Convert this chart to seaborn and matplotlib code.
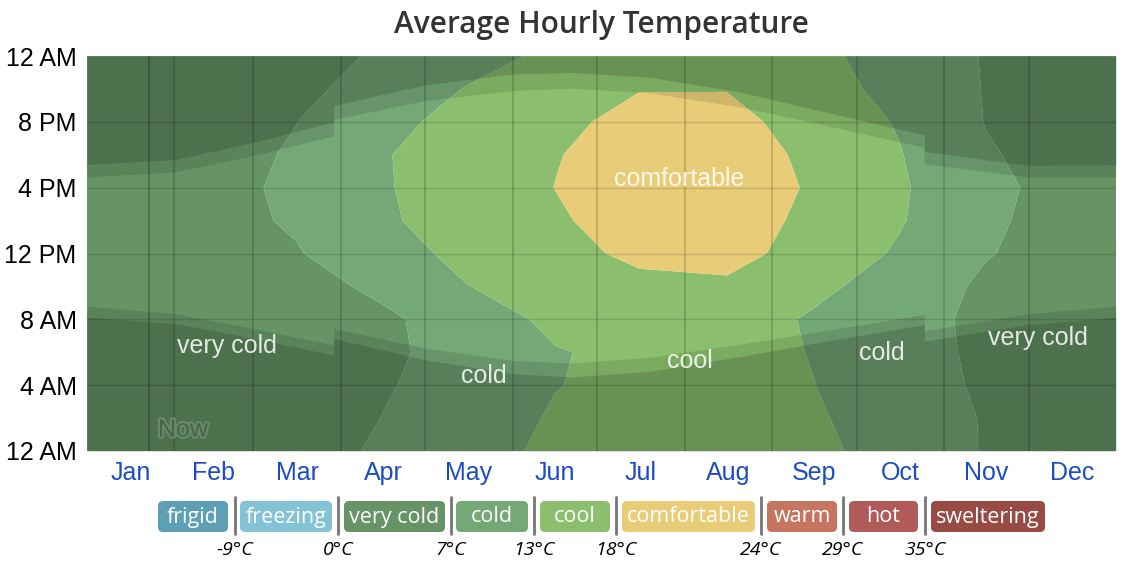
import numpy as np
import matplotlib.pyplot as plt
import matplotlib.patheffects as pe
from matplotlib.patches import FancyBboxPatch
import seaborn as sns

# --- data ---
months = ['Jan', 'Feb', 'Mar', 'Apr', 'May', 'Jun', 'Jul', 'Aug', 'Sep', 'Oct', 'Nov', 'Dec']
month_lengths = [31, 28, 31, 30, 31, 30, 31, 31, 30, 31, 30, 31]
mid_days = [15, 45, 74, 105, 135, 166, 196, 227, 258, 288, 319, 349]
hours = [0, 2, 4, 6, 8, 10, 12, 14, 16, 18, 20, 22, 24]

# average temperature (°C), one list per hour of day, mid-month values Jan..Dec
temp_h00 = [2.6, 2.8, 4.6, 7.8, 10.8, 14.2, 15.6, 15.8, 14.1, 11.0, 6.6, 3.4]
temp_h02 = [2.3, 2.5, 3.8, 7.1, 9.8, 13.6, 15.1, 15.2, 13.6, 10.4, 6.6, 3.1]
temp_h04 = [2.1, 2.2, 3.3, 6.6, 9.0, 12.8, 14.7, 14.9, 13.05, 9.8, 6.1, 2.8]
temp_h06 = [1.9, 2.0, 3.0, 6.2, 8.6, 12.6, 14.5, 14.6, 12.8, 9.5, 5.8, 2.6]
temp_h08 = [2.0, 2.3, 3.7, 6.2, 9.2, 14.6, 15.8, 15.8, 12.3, 9.4, 5.6, 2.7]
temp_h10 = [3.0, 3.5, 5.2, 8.0, 12.9, 15.5, 17.3, 17.5, 14.3, 10.5, 6.0, 3.6]
temp_h12 = [4.2, 4.9, 6.6, 10.6, 14.6, 17.1, 18.6, 19.0, 16.8, 12.3, 7.3, 4.8]
temp_h14 = [4.8, 5.4, 7.6, 12.4, 15.0, 17.5, 19.8, 19.6, 17.2, 13.5, 7.7, 5.3]
temp_h16 = [5.0, 5.6, 7.9, 12.6, 15.5, 18.05, 20.2, 20.0, 17.6, 13.8, 8.0, 5.5]
temp_h18 = [4.3, 5.0, 7.6, 12.7, 15.4, 17.8, 19.8, 19.6, 17.3, 13.3, 7.5, 4.8]
temp_h20 = [3.6, 4.3, 6.9, 11.5, 14.8, 17.3, 18.9, 19.0, 16.6, 12.6, 6.8, 4.0]
temp_h22 = [3.0, 3.5, 5.6, 9.3, 13.3, 15.9, 17.9, 17.9, 15.0, 11.5, 6.7, 3.6]

# daylight / twilight (local clock hours, DST jumps end of March and October)
sun_days = [0, 31, 59, 87.5, 87.5, 120, 151, 172, 200, 232, 263, 297, 297, 334, 365]
dawn = [8.13, 7.75, 6.85, 5.83, 6.83, 5.55, 4.7, 4.5, 4.85, 5.75, 6.7, 7.68, 6.68, 7.7, 8.13]
sunrise = [8.8, 8.35, 7.45, 6.45, 7.45, 6.25, 5.5, 5.35, 5.7, 6.5, 7.35, 8.3, 7.3, 8.35, 8.8]
sunset = [16.65, 16.95, 17.95, 19.15, 20.15, 21.3, 21.9, 22.05, 21.75, 20.9, 19.75, 18.45, 17.45, 16.65, 16.65]
dusk = [17.4, 17.7, 18.75, 20.0, 21.0, 22.25, 22.9, 23.0, 22.7, 21.8, 20.55, 19.2, 18.2, 17.35, 17.4]
now_day = 22

band_names = ['frigid', 'freezing', 'very cold', 'cold', 'cool', 'comfortable', 'warm', 'hot', 'sweltering']
band_colors = ['#5da0b5', '#84c3d6', '#669466', '#74a876', '#8bbf6e', '#e8cc78', '#c67560', '#b05b5a', '#984b44']
band_edges = [-9, 0, 7, 13, 18, 24, 29, 35]
edge_labels = ['-9°C', '0°C', '7°C', '13°C', '18°C', '24°C', '29°C', '35°C']

hour_labels = ['12 AM', '4 AM', '8 AM', '12 PM', '4 PM', '8 PM', '12 AM']

sns.set_style('white')
plt.rcParams['font.family'] = ['Liberation Sans', 'DejaVu Sans']

W, H = 1137, 567
fig = plt.figure(figsize=(W / 100, H / 100), dpi=100)
ax = fig.add_axes([87 / W, 1 - 451 / H, (1116 - 87) / W, (451 - 56) / H])

# temperature grid, wrapped around the year ends
T = np.array([temp_h00, temp_h02, temp_h04, temp_h06, temp_h08, temp_h10, temp_h12,
              temp_h14, temp_h16, temp_h18, temp_h20, temp_h22, temp_h00])
T = np.column_stack([T[:, -1], T, T[:, 0]])
xg = [mid_days[-1] - 365] + mid_days + [mid_days[0] + 365]
levels = [-60] + band_edges + [60]
ax.contourf(xg, hours, T, levels=levels, colors=band_colors, antialiased=True)

# night and twilight shading
ax.fill_between(sun_days, 0, dawn, color='black', alpha=0.24, lw=0)
ax.fill_between(sun_days, dawn, sunrise, color='black', alpha=0.11, lw=0)
ax.fill_between(sun_days, sunset, dusk, color='black', alpha=0.11, lw=0)
ax.fill_between(sun_days, dusk, 24, color='black', alpha=0.24, lw=0)

# grid
for h in range(4, 24, 4):
    ax.axhline(h, color='black', alpha=0.14, lw=1)
month_starts = np.cumsum([0] + month_lengths)
for d in month_starts[1:-1]:
    ax.axvline(d, color='black', alpha=0.17, lw=1.3)
ax.axvline(now_day, color='black', alpha=0.22, lw=1.5)

ax.set_xlim(0, 365)
ax.set_ylim(0, 24)
for s in ax.spines.values():
    s.set_visible(False)

ax.set_yticks(range(0, 25, 4))
ax.set_yticklabels(hour_labels, fontsize=18, color='black')
ax.tick_params(axis='y', length=6, width=1, color='#dddddd', pad=1.5)
ax.set_xticks(month_starts)
ax.set_xticklabels([])
ax.tick_params(axis='x', which='major', length=6, width=1, color='#dddddd')
mid_month = month_starts[:-1] + np.array(month_lengths) / 2
ax.set_xticks(mid_month, minor=True)
ax.set_xticklabels(months, minor=True, fontsize=18, color='#1c4cc4')
ax.tick_params(axis='x', which='minor', length=0, pad=7)

# band labels in the plot
txt = (1, 1, 1, 0.85)
for label, d, h in [('very cold', 49.7, 6.4), ('cold', 140.8, 4.55), ('cool', 213.9, 5.45),
                    ('comfortable', 210, 16.5), ('cold', 282, 5.95), ('very cold', 337.3, 6.85)]:
    ax.text(d, h, label, color=txt, fontsize=18, ha='center', va='center')
ax.text(34, 1.3, 'Now', fontsize=18, color='#3f5c42', alpha=0.8, ha='center', va='center',
        path_effects=[pe.withStroke(linewidth=3, foreground='#6f9170')])

fig.text(601.5 / W, 1 - 25 / H, 'Average Hourly Temperature', ha='center', va='center',
         fontsize=21.5, fontweight='semibold', color='#333333', family=['Open Sans', 'DejaVu Sans'])

# legend (pixel coordinates)
lax = fig.add_axes([0, 0, 1, 1])
lax.set_xlim(0, W)
lax.set_ylim(H, 0)
lax.axis('off')
pill_x = [(158, 228), (240, 332), (344, 445), (456, 528), (540, 610),
          (622, 755), (767, 837), (849, 918), (931, 1045)]
sep_x = [235, 338, 451, 534, 616, 761, 843, 925]
for (x0, x1), name, c in zip(pill_x, band_names, band_colors):
    lax.add_patch(FancyBboxPatch((x0, 501), x1 - x0, 31, boxstyle='round,pad=0,rounding_size=5',
                                 fc=c, ec='none'))
    lax.text((x0 + x1) / 2, 517, name, color='white', fontsize=15.5, ha='center', va='center',
             family=['Open Sans', 'DejaVu Sans'])
for x, lab in zip(sep_x, edge_labels):
    lax.plot([x, x], [497, 534], color='#777777', lw=2)
    lax.text(x, 550, lab, fontsize=14, style='italic', ha='center', va='center',
             color='black', family=['Open Sans', 'DejaVu Sans'])

fig.savefig('out.png', dpi=100)
